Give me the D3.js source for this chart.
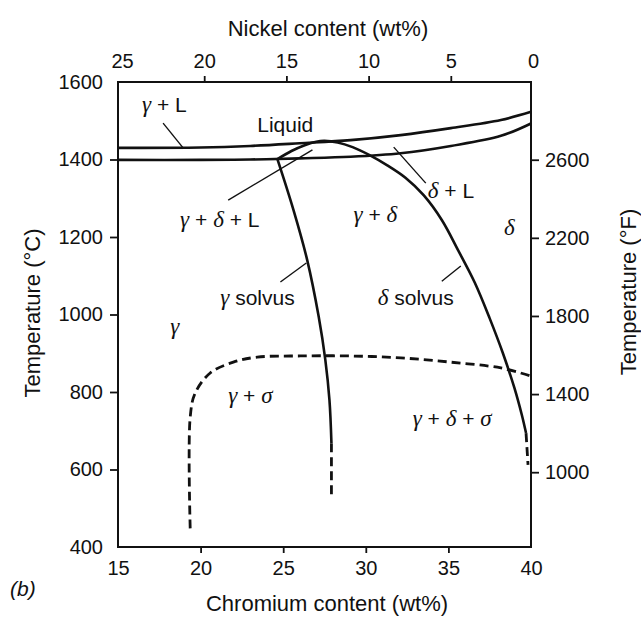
<!DOCTYPE html>
<html>
<head>
<meta charset="utf-8">
<script src="https://cdn.jsdelivr.net/npm/d3@7"></script>
<style>
  body { margin: 0; background: #fff; }
  svg text { font-family: "Liberation Sans", Arial, sans-serif; fill: #111; }
  .greek { font-family: "Liberation Serif", "Times New Roman", serif; font-style: italic; }
</style>
</head>
<body>
<svg width="641" height="617"></svg>
<script>
// tick labels
var crTicks = [15, 20, 25, 30, 35, 40];
var niTicks = [25, 20, 15, 10, 5, 0];
var tcTicks = [400, 600, 800, 1000, 1200, 1400, 1600];
var tfTicks = [1000, 1400, 1800, 2200, 2600];

// phase boundaries (Cr wt%, deg C)
var liquidusCr = [15, 20, 23, 26, 29.08, 32.11, 35.15, 38.18, 40];
var liquidusT  = [1430, 1431, 1435, 1442, 1450, 1463, 1481, 1502, 1523];
var solidusCr  = [15, 20, 23, 26, 29.08, 32.11, 35.15, 38.18, 40];
var solidusT   = [1399, 1399, 1400, 1403, 1407, 1416, 1435, 1461, 1493];

var gSolvusCr = [24.65, 25.62, 26.45, 27.15, 27.55, 27.8, 27.92];
var gSolvusT  = [1401, 1270, 1141, 994, 883, 779, 668];
var gSolvusDashCr = [27.92, 27.92];
var gSolvusDashT  = [668, 527];

var dSolvusCr = [24.65, 25.5, 26.3, 27.0, 27.5, 28.3, 29.2, 30.2, 31.3, 32.4, 33.5, 34.6, 35.6, 36.6, 37.5, 38.3, 39.0, 39.45, 39.70];
var dSolvusT  = [1401, 1422, 1437, 1446, 1448, 1444, 1432, 1412, 1385, 1353, 1308, 1244, 1165, 1082, 990, 900, 810, 740, 694];
var dSolvusDashCr = [39.70, 39.82];
var dSolvusDashT  = [694, 612];

var sigmaCr = [19.37, 19.37, 19.67, 20.58, 21.98, 23.43, 26.04, 29.08, 32.11, 35.15, 38.18, 40];
var sigmaT  = [448, 735, 797, 849, 877, 890, 893, 893, 888, 877, 862, 841];

// region labels: text, Cr, T (baseline start)
var labelText = ["γ + L", "Liquid", "γ + δ + L", "δ + L", "γ + δ", "δ", "γ solvus", "δ solvus", "γ", "γ + σ", "γ + δ + σ"];
var labelCr   = [16.46, 23.43, 18.76, 33.75, 29.26, 38.36, 21.19, 30.72, 18.16, 21.67, 32.84];
var labelT    = [1523, 1471, 1226, 1301, 1239, 1205, 1025, 1025, 950, 772, 712];

// leader lines: [Cr1, T1, Cr2, T2]
var leaders = [
  [17.73, 1494, 18.94, 1430],
  [21.67, 1295, 26.77, 1425],
  [31.69, 1432, 33.63, 1339],
  [24.83, 1084, 26.40, 1133],
  [34.60, 1086, 35.75, 1125]
];

var svg = d3.select("svg");
var pLeft = 118, pRight = 531, pTop = 82, pBottom = 547;

var x = d3.scaleLinear().domain([15, 40]).range([pLeft, pRight]);
var xNi = d3.scaleLinear().domain([25, 0]).range([122, 533]);
var y = d3.scaleLinear().domain([400, 1600]).range([pBottom, pTop]);
var yF = d3.scaleLinear().domain([617, 2998]).range([pBottom, pTop]);

function zipPts(a, b) { return a.map(function(v, i) { return [v, b[i]]; }); }

// axes
function styleAxis(g, hide) {
  g.select(".domain").remove();
  g.selectAll(".tick line").attr("stroke", "#111").attr("stroke-width", 1.8)
    .style("display", function(d) { return hide.indexOf(d) >= 0 ? "none" : null; });
  g.selectAll(".tick text").attr("font-size", 20).attr("fill", "#111");
}

svg.append("g").attr("transform", "translate(0," + pBottom + ")")
  .call(d3.axisBottom(x).tickValues(crTicks).tickSize(6).tickPadding(8))
  .call(styleAxis, [15, 40]);

svg.append("g").attr("transform", "translate(0," + pTop + ")")
  .call(d3.axisTop(xNi).tickValues(niTicks).tickSize(6).tickPadding(8))
  .call(styleAxis, [25, 0]);

svg.append("g").attr("transform", "translate(" + pLeft + ",0)")
  .call(d3.axisLeft(y).tickValues(tcTicks).tickSize(8).tickPadding(7).tickFormat(d3.format("d")))
  .call(styleAxis, [400, 1600]);

svg.append("g").attr("transform", "translate(" + pRight + ",0)")
  .call(d3.axisRight(yF).tickValues(tfTicks).tickSize(8).tickPadding(6).tickFormat(d3.format("d")))
  .call(styleAxis, []);

// frame
svg.append("rect")
  .attr("x", pLeft).attr("y", pTop)
  .attr("width", pRight - pLeft).attr("height", pBottom - pTop)
  .attr("fill", "none").attr("stroke", "#111").attr("stroke-width", 2);

// curves
var line = d3.line()
  .x(function(d) { return x(d[0]); })
  .y(function(d) { return y(d[1]); })
  .curve(d3.curveCatmullRom.alpha(0.5));

var solid = [
  zipPts(liquidusCr, liquidusT),
  zipPts(solidusCr, solidusT),
  zipPts(gSolvusCr, gSolvusT),
  zipPts(dSolvusCr, dSolvusT)
];
var dashed = [
  zipPts(gSolvusDashCr, gSolvusDashT),
  zipPts(dSolvusDashCr, dSolvusDashT),
  zipPts(sigmaCr, sigmaT)
];

svg.selectAll("path.solid").data(solid).enter().append("path")
  .attr("class", "solid")
  .attr("d", line)
  .attr("fill", "none").attr("stroke", "#111").attr("stroke-width", 2.6);

svg.selectAll("path.dash").data(dashed).enter().append("path")
  .attr("class", "dash")
  .attr("d", line)
  .attr("fill", "none").attr("stroke", "#111").attr("stroke-width", 2.8)
  .attr("stroke-dasharray", "9,5");

svg.selectAll("line.leader").data(leaders).enter().append("line")
  .attr("class", "leader")
  .attr("x1", function(d) { return x(d[0]); })
  .attr("y1", function(d) { return y(d[1]); })
  .attr("x2", function(d) { return x(d[2]); })
  .attr("y2", function(d) { return y(d[3]); })
  .attr("stroke", "#111").attr("stroke-width", 1.4);

// labels, greek letters in italic serif
var labels = svg.selectAll("text.region").data(labelText).enter().append("text")
  .attr("class", "region")
  .attr("x", function(d, i) { return x(labelCr[i]); })
  .attr("y", function(d, i) { return y(labelT[i]); })
  .attr("font-size", 21);

labels.each(function(d) {
  var t = d3.select(this);
  d.match(/[γδσ]|[^γδσ]+/g).forEach(function(part) {
    var s = t.append("tspan").text(part);
    if (/[γδσ]/.test(part)) s.attr("class", "greek").attr("font-size", 23);
  });
});

// axis titles
svg.append("text").attr("x", 328).attr("y", 36).attr("text-anchor", "middle")
  .attr("font-size", 22).text("Nickel content (wt%)");
svg.append("text").attr("x", 327).attr("y", 611).attr("text-anchor", "middle")
  .attr("font-size", 22).text("Chromium content (wt%)");
svg.append("text").attr("transform", "translate(40,313) rotate(-90)").attr("text-anchor", "middle")
  .attr("font-size", 22).text("Temperature (°C)");
svg.append("text").attr("transform", "translate(636,292) rotate(-90)").attr("text-anchor", "middle")
  .attr("font-size", 22).text("Temperature (°F)");
svg.append("text").attr("x", 10).attr("y", 596)
  .attr("font-size", 21).attr("font-style", "italic").text("(b)");
</script>
</body>
</html>
